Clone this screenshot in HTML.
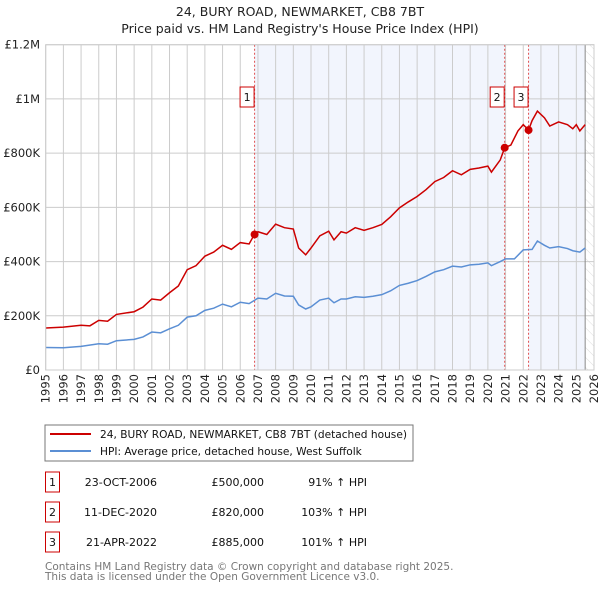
<!DOCTYPE html>
<html><head><meta charset="utf-8"><style>
body{margin:0;background:#fff;font-family:"DejaVu Sans","Liberation Sans",sans-serif;}
svg text{font-family:"DejaVu Sans","Liberation Sans",sans-serif;}
</style></head><body>
<svg id="c" width="600" height="590" xmlns="http://www.w3.org/2000/svg">
<defs><pattern id="hatch" width="7" height="7" patternUnits="userSpaceOnUse" patternTransform="rotate(-45)"><line x1="0" y1="0" x2="0" y2="7" stroke="#ddd" stroke-width="1"/></pattern></defs>
<text x="300" y="16" text-anchor="middle" font-size="12.5" fill="#222">24, BURY ROAD, NEWMARKET, CB8 7BT</text>
<text x="300" y="33" text-anchor="middle" font-size="12.5" fill="#222">Price paid vs. HM Land Registry's House Price Index (HPI)</text>
<g id="plot"></g>
<rect x="45" y="425" width="368" height="36" fill="#fff" stroke="#777"/>
<line x1="50" y1="434" x2="91" y2="434" stroke="#cc0000" stroke-width="2"/>
<text x="100" y="438" font-size="10.6" fill="#111">24, BURY ROAD, NEWMARKET, CB8 7BT (detached house)</text>
<line x1="50" y1="451" x2="91" y2="451" stroke="#5b8fd4" stroke-width="2"/>
<text x="100" y="455" font-size="10.6" fill="#111">HPI: Average price, detached house, West Suffolk</text>
<g id="table"></g>
<text x="45" y="570" font-size="10.5" fill="#777">Contains HM Land Registry data © Crown copyright and database right 2025.</text>
<text x="45" y="580" font-size="10.5" fill="#777">This data is licensed under the Open Government Licence v3.0.</text>
</svg>
<script>
const yTicks=[0,200000,400000,600000,800000,1000000,1200000];
const yTickLabels=["£0","£200K","£400K","£600K","£800K","£1M","£1.2M"];
const years=[1995,1996,1997,1998,1999,2000,2001,2002,2003,2004,2005,2006,2007,2008,2009,2010,2011,2012,2013,2014,2015,2016,2017,2018,2019,2020,2021,2022,2023,2024,2025,2026];
const redT=[1995,1996,1997,1997.5,1998,1998.5,1999,2000,2000.5,2001,2001.5,2002,2002.5,2003,2003.5,2004,2004.5,2005,2005.5,2006,2006.5,2006.8,2007,2007.5,2008,2008.5,2009,2009.3,2009.7,2010,2010.5,2011,2011.3,2011.7,2012,2012.5,2013,2013.5,2014,2014.5,2015,2015.5,2016,2016.5,2017,2017.5,2018,2018.5,2019,2019.5,2020,2020.2,2020.7,2020.95,2021.3,2021.7,2022,2022.3,2022.5,2022.8,2023.2,2023.5,2024,2024.5,2024.8,2025,2025.2,2025.5];
const redV=[155,158,165,163,183,180,205,215,232,262,258,285,310,370,385,420,435,460,445,470,465,500,510,500,538,525,520,450,425,450,495,512,480,510,505,525,515,525,537,565,598,620,640,665,695,710,735,720,740,745,752,730,775,820,830,882,905,885,920,955,930,900,915,905,890,905,882,905];
const hpiT=[1995,1996,1997,1998,1998.5,1999,2000,2000.5,2001,2001.5,2002,2002.5,2003,2003.5,2004,2004.5,2005,2005.5,2006,2006.5,2007,2007.5,2008,2008.5,2009,2009.3,2009.7,2010,2010.5,2011,2011.3,2011.7,2012,2012.5,2013,2013.5,2014,2014.5,2015,2015.5,2016,2016.5,2017,2017.5,2018,2018.5,2019,2019.5,2020,2020.2,2020.7,2021,2021.5,2022,2022.5,2022.8,2023.2,2023.5,2024,2024.5,2024.8,2025.2,2025.5];
const hpiV=[83,82,87,97,95,108,113,122,140,137,152,165,195,200,220,228,243,233,250,245,265,262,283,273,272,240,225,233,258,265,248,262,262,270,268,272,278,292,312,320,330,345,362,370,383,380,388,390,395,385,400,410,410,443,445,476,460,450,455,448,440,435,450];
const saleT=[2006.81,2020.95,2022.3];
const saleV=[500000,820000,885000];
const saleLabels=["1","2","3"];
const saleDates=["23-OCT-2006","11-DEC-2020","21-APR-2022"];
const salePrices=["£500,000","£820,000","£885,000"];
const saleHpi=["91% ↑ HPI","103% ↑ HPI","101% ↑ HPI"];

const X0=45.7,X1=594,Y0=370,Y1=44.7;
const xs=t=>X0+(t-1995)/(2026-1995)*(X1-X0);
const ys=v=>Y0-v/1200000*(Y0-Y1);
const NS="http://www.w3.org/2000/svg";
const g=document.getElementById('plot');
function mk(tag,attrs,parent){const e=document.createElementNS(NS,tag);for(const k in attrs)e.setAttribute(k,attrs[k]);(parent||g).appendChild(e);return e;}
const lastT=2025.5;
let e;
e=mk('rect',{x:xs(saleT[0]),y:Y1,width:xs(saleT[1])-xs(saleT[0]),height:Y0-Y1,fill:'#eef2fc',opacity:0.75});


e=mk('rect',{x:xs(saleT[2]),y:Y1,width:xs(lastT)-xs(saleT[2]),height:Y0-Y1,fill:'#eef2fc',opacity:0.75});


e=mk('rect',{x:xs(lastT),y:Y1,width:X1-xs(lastT),height:Y0-Y1,fill:'url(#hatch)'});


yTicks.forEach((v,i)=>{
  e=mk('line',{x1:X0,x2:X1,y1:ys(v),y2:ys(v),stroke:'#ccc','stroke-width':1});
  
  
  e=mk('text',{x:40,y:ys(v)+4,'text-anchor':'end','font-size':11.5,fill:'#222'});
  e.textContent=yTickLabels[i];
  
  
});
years.forEach(yr=>{
  e=mk('line',{x1:xs(yr),x2:xs(yr),y1:Y1,y2:Y0,stroke:'#ccc','stroke-width':1});
  
  
  e=mk('text',{x:0,y:0,'text-anchor':'end','font-size':11.5,fill:'#222',transform:`translate(${xs(yr)+4},374) rotate(-90)`});
  e.textContent=yr;
  
  
});
e=mk('line',{x1:xs(lastT),x2:xs(lastT),y1:Y1,y2:Y0,stroke:'#888','stroke-width':1});


saleT.forEach((t,i)=>{
  e=mk('line',{x1:xs(t),x2:xs(t),y1:Y1,y2:Y0,stroke:'#e05050','stroke-width':1,'stroke-dasharray':'2,2'});
  
  
});
e=mk('polyline',{points:hpiT.map((t,i)=>xs(t)+','+ys(hpiV[i]*1000)).join(' '),fill:'none',stroke:'#5b8fd4','stroke-width':1.5});


e=mk('polyline',{points:redT.map((t,i)=>xs(t)+','+ys(redV[i]*1000)).join(' '),fill:'none',stroke:'#cc0000','stroke-width':1.5});


saleT.forEach((t,i)=>{
  e=mk('circle',{cx:xs(t),cy:ys(saleV[i]),r:4,fill:'#cc0000'});
  
  
  e=mk('rect',{x:xs(t)-14.5,y:87,width:14,height:20,fill:'#fff',stroke:'#cc0000'});
  
  
  e=mk('text',{x:xs(t)-7.5,y:101,'text-anchor':'middle','font-size':11,fill:'#111'});
  e.textContent=saleLabels[i];
  
  
});
e=mk('rect',{x:X0,y:Y1,width:X1-X0,height:Y0-Y1,fill:'none',stroke:'#ccc'});


const tb=document.getElementById('table');
saleLabels.forEach((l,i)=>{
  const y=483+i*30;
  e=mk('rect',{x:45.5,y:y-11,width:14,height:20,fill:'#fff',stroke:'#cc0000'},tb);
  
  
  e=mk('text',{x:52.5,y:y+3,'text-anchor':'middle','font-size':11,fill:'#111'},tb);
  e.textContent=l;
  
  
  e=mk('text',{x:157,y:y+3,'text-anchor':'end','font-size':11,fill:'#111'},tb);
  e.textContent=saleDates[i];
  
  
  e=mk('text',{x:264,y:y+3,'text-anchor':'end','font-size':11,fill:'#111'},tb);
  e.textContent=salePrices[i];
  
  
  e=mk('text',{x:367,y:y+3,'text-anchor':'end','font-size':11,fill:'#111'},tb);
  e.textContent=saleHpi[i];
  
  
});
</script>
</body></html>
